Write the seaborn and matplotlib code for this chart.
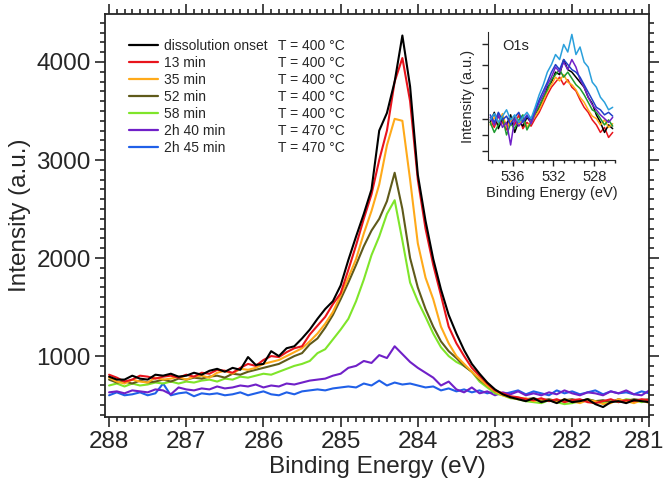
import numpy as np
import pandas as pd
import seaborn as sns
import matplotlib.pyplot as plt
from matplotlib.lines import Line2D
from matplotlib.ticker import MultipleLocator
from matplotlib.transforms import ScaledTranslation

# -------------------------------
# Data: C1s spectra, 288.0 -> 281.0 eV (0.1 eV steps)
# -------------------------------
energy = np.round(np.arange(288.0, 280.95, -0.1), 1)

onset = [790, 760, 760, 800, 770, 760, 810, 800, 820, 790,
         800, 830, 810, 850, 870, 840, 880, 860, 990, 910,
         920, 1050, 1000, 1080, 1100, 1180, 1270, 1380, 1480, 1560,
         1720, 1980, 2220, 2450, 2700, 3300, 3480, 3800, 4270, 3750,
         2850, 2380, 1990, 1680, 1420, 1230, 1060, 920, 820, 730,
         660, 610, 580, 560, 540, 570, 530, 550, 520, 560,
         530, 540, 560, 510, 480, 530, 540, 520, 550, 540, 530]
min13 = [810, 780, 740, 760, 800, 790, 770, 790, 800, 780,
         810, 790, 830, 820, 860, 850, 830, 880, 920, 900,
         960, 1000, 990, 1040, 1080, 1100, 1220, 1310, 1400, 1530,
         1640, 1880, 2130, 2400, 2650, 3000, 3300, 3800, 4040, 3600,
         2800, 2300, 1930, 1620, 1300, 1130, 1000, 880, 800, 720,
         650, 620, 590, 580, 560, 550, 570, 540, 560, 530,
         550, 560, 530, 520, 540, 560, 530, 550, 540, 560, 550]
min35 = [780, 740, 720, 760, 740, 730, 780, 760, 770, 790,
         760, 790, 800, 780, 830, 850, 820, 870, 860, 880,
         920, 940, 960, 1000, 1040, 1080, 1150, 1230, 1330, 1450,
         1620, 1800, 1990, 2250, 2480, 2750, 3150, 3420, 3400, 2800,
         2150, 1800, 1580, 1300, 1130, 1000, 920, 840, 770, 700,
         640, 600, 580, 560, 570, 540, 560, 550, 530, 560,
         540, 520, 550, 540, 510, 520, 560, 540, 520, 550, 520]
min52 = [760, 730, 740, 720, 750, 730, 740, 760, 740, 770,
         760, 780, 770, 790, 800, 780, 820, 810, 840, 860,
         880, 900, 920, 960, 1000, 1030, 1120, 1180, 1290, 1420,
         1580, 1750, 1930, 2120, 2280, 2400, 2580, 2870, 2500, 2000,
         1700, 1480, 1300, 1150, 1050, 980, 900, 840, 760, 700,
         640, 610, 580, 570, 560, 570, 550, 560, 540, 550,
         560, 540, 560, 540, 550, 530, 560, 540, 560, 550, 560]
min58 = [700, 720, 690, 720, 700, 710, 730, 720, 740, 720,
         740, 730, 750, 760, 740, 770, 760, 790, 780, 800,
         820, 810, 840, 870, 900, 920, 950, 1030, 1070, 1170,
         1270, 1380, 1560, 1780, 2030, 2220, 2450, 2590, 2180, 1750,
         1560, 1400, 1230, 1090, 1000, 940, 900, 840, 740, 680,
         620, 600, 570, 560, 540, 530, 520, 550, 530, 510,
         520, 540, 560, 540, 520, 550, 530, 560, 550, 530, 550]
h2m40 = [630, 640, 620, 650, 640, 630, 660, 650, 610, 680,
         660, 650, 670, 660, 690, 670, 680, 700, 690, 710,
         680, 700, 690, 720, 710, 730, 750, 760, 770, 800,
         820, 880, 900, 950, 930, 1010, 980, 1100, 1020, 940,
         880, 830, 780, 700, 740, 660, 630, 680, 620, 640,
         600, 630, 610, 640, 600, 620, 600, 630, 610, 650,
         620, 600, 630, 620, 600, 640, 620, 650, 610, 600, 650]
h2m45 = [600, 630, 600, 610, 630, 600, 620, 720, 600, 620,
         630, 590, 620, 610, 620, 600, 610, 630, 600, 620,
         640, 610, 600, 630, 610, 640, 650, 660, 650, 670,
         680, 690, 680, 720, 700, 750, 700, 730, 710, 720,
         700, 680, 690, 650, 670, 640, 660, 630, 650, 620,
         640, 610, 630, 650, 610, 640, 620, 600, 650, 620,
         640, 610, 630, 650, 610, 640, 620, 630, 610, 640, 620]

labels = ["dissolution onset", "13 min", "35 min", "52 min",
          "58 min", "2h 40 min", "2h 45 min"]
temps = ["T = 400 °C", "T = 400 °C", "T = 400 °C", "T = 400 °C",
         "T = 400 °C", "T = 470 °C", "T = 470 °C"]
colors = ["#000000", "#e8141c", "#ffaa1a", "#5f5a1a",
          "#7fe52a", "#7020c8", "#2060e8"]

# O1s inset, 538.2 -> 526.2 eV (0.4 eV steps), normalised intensity
energy_o1s = np.round(np.arange(538.2, 526.1, -0.4), 1)

o1s_black = [0.30, 0.38, 0.25, 0.33, 0.28, 0.36, 0.22, 0.31, 0.27, 0.34, 0.30,
             0.36, 0.42, 0.48, 0.58, 0.62, 0.70, 0.68, 0.80, 0.72, 0.70, 0.66,
             0.62, 0.58, 0.50, 0.45, 0.36, 0.30, 0.22, 0.28, 0.25]
o1s_red = [0.32, 0.26, 0.35, 0.30, 0.24, 0.33, 0.28, 0.36, 0.25, 0.30, 0.27,
           0.33, 0.38, 0.45, 0.52, 0.58, 0.62, 0.66, 0.60, 0.64, 0.58, 0.55,
           0.48, 0.42, 0.38, 0.32, 0.28, 0.22, 0.26, 0.18, 0.22]
o1s_orange = [0.28, 0.34, 0.30, 0.37, 0.26, 0.31, 0.35, 0.28, 0.33, 0.26, 0.31,
              0.35, 0.40, 0.47, 0.55, 0.60, 0.66, 0.63, 0.68, 0.62, 0.60, 0.56,
              0.50, 0.46, 0.40, 0.35, 0.33, 0.28, 0.32, 0.26, 0.29]
o1s_green = [0.30, 0.22, 0.28, 0.34, 0.20, 0.29, 0.25, 0.32, 0.36, 0.24, 0.30,
             0.37, 0.43, 0.50, 0.56, 0.64, 0.68, 0.72, 0.66, 0.70, 0.65, 0.60,
             0.57, 0.52, 0.46, 0.40, 0.38, 0.33, 0.28, 0.32, 0.27]
o1s_purple = [0.34, 0.28, 0.36, 0.26, 0.30, 0.12, 0.33, 0.27, 0.31, 0.36, 0.29,
              0.38, 0.46, 0.52, 0.60, 0.66, 0.74, 0.70, 0.78, 0.72, 0.80, 0.74,
              0.64, 0.58, 0.50, 0.44, 0.40, 0.36, 0.33, 0.30, 0.34]
o1s_blue = [0.36, 0.30, 0.38, 0.32, 0.35, 0.28, 0.34, 0.38, 0.30, 0.35, 0.32,
            0.40, 0.48, 0.55, 0.62, 0.70, 0.76, 0.72, 0.80, 0.76, 0.72, 0.70,
            0.66, 0.60, 0.54, 0.48, 0.42, 0.40, 0.36, 0.38, 0.35]
o1s_lightblue = [0.32, 0.37, 0.30, 0.35, 0.40, 0.32, 0.36, 0.30, 0.34, 0.38, 0.33,
                 0.42, 0.52, 0.60, 0.70, 0.76, 0.84, 0.80, 0.92, 0.86, 1.00, 0.84,
                 0.90, 0.78, 0.74, 0.62, 0.58, 0.50, 0.46, 0.40, 0.42]
o1s_names = ["lightblue", "blue", "purple", "green", "orange", "black", "red"]
o1s_colors = ["#2aa0dc", "#2040c8", "#7020c8", "#1e9a2e", "#ffaa1a", "#000000", "#e8141c"]

# -------------------------------
# Plot
# -------------------------------
sns.set_style("ticks")
plt.rcParams["font.family"] = ["Liberation Sans", "DejaVu Sans"]

series = [onset, min13, min35, min52, min58, h2m40, h2m45]
df = pd.DataFrame({
    "Binding Energy": np.tile(energy, len(series)),
    "Intensity": np.concatenate(series),
    "Spectrum": np.repeat(labels, len(energy)),
})

fig = plt.figure(figsize=(6.66, 4.91), dpi=100)
ax = fig.add_axes([0.158, 0.151, 0.817, 0.8206])
# draw in reverse so the onset curve sits on top
sns.lineplot(data=df, x="Binding Energy", y="Intensity", hue="Spectrum",
             hue_order=labels[::-1], palette=dict(zip(labels, colors)),
             estimator=None, sort=False, lw=1.5, legend=False, ax=ax)

ax.set_xlim(288.05, 281.0)
ax.set_ylim(380, 4490)
ax.xaxis.set_major_locator(MultipleLocator(1))
ax.xaxis.set_minor_locator(MultipleLocator(0.1))
ax.yaxis.set_major_locator(MultipleLocator(1000))
ax.yaxis.set_minor_locator(MultipleLocator(100))
ax.tick_params(which="both", direction="out", top=True, right=True,
               labeltop=False, labelright=False, width=1.2, labelsize=17.5)
ax.tick_params(which="major", length=7)
ax.tick_params(which="minor", length=3.5)
for sp in ax.spines.values():
    sp.set_linewidth(1.3)
ax.set_xlabel("Binding Energy (eV)", fontsize=17.5, labelpad=2)
ax.set_ylabel("Intensity (a.u.)", fontsize=17.5, labelpad=4)

# keep the "281" tick label inside the figure
fig.canvas.draw()
for tick in ax.xaxis.get_major_ticks():
    if abs(tick.get_loc() - 281.0) < 1e-6:
        lbl = tick.label1
        lbl.set_transform(lbl.get_transform()
                          + ScaledTranslation(-4 / 72, 0, fig.dpi_scale_trans))

handles = [Line2D([0], [0], color=c, lw=1.6) for c in colors]
leg1 = ax.legend(handles, labels, loc="upper left", bbox_to_anchor=(0.033, 0.952),
                 frameon=False, fontsize=10, handlelength=2.1, handletextpad=0.45,
                 labelspacing=0.22, borderaxespad=0)
ax.add_artist(leg1)
blank = [Line2D([], [], alpha=0) for _ in temps]
ax.legend(blank, temps, loc="upper left", bbox_to_anchor=(0.307, 0.952),
          frameon=False, fontsize=10, handlelength=0, handletextpad=0,
          labelspacing=0.22, borderaxespad=0)

# inset O1s
o1s = [o1s_lightblue, o1s_blue, o1s_purple, o1s_green, o1s_orange, o1s_black, o1s_red]
df_o = pd.DataFrame({
    "Binding Energy": np.tile(energy_o1s, len(o1s)),
    "Intensity": np.concatenate(o1s),
    "Spectrum": np.repeat(o1s_names, len(energy_o1s)),
})
axi = fig.add_axes([0.733, 0.674, 0.19, 0.261])
sns.lineplot(data=df_o, x="Binding Energy", y="Intensity", hue="Spectrum",
             hue_order=o1s_names[::-1], palette=dict(zip(o1s_names, o1s_colors)),
             estimator=None, sort=False, lw=1.1, legend=False, ax=axi)
axi.set_xlim(538.4, 526.0)
axi.set_ylim(0.0, 1.02)
axi.xaxis.set_major_locator(MultipleLocator(4))
axi.xaxis.set_minor_locator(MultipleLocator(1))
axi.set_yticks([0.07, 0.2, 0.33, 0.57, 0.76, 0.92])
axi.set_yticklabels([])
axi.tick_params(which="both", direction="out", width=1, labelsize=10.5)
axi.tick_params(which="major", length=4)
axi.tick_params(which="minor", length=2)
sns.despine(ax=axi)
axi.set_xlabel("Binding Energy (eV)", fontsize=10.5, labelpad=1)
axi.set_ylabel("Intensity (a.u.)", fontsize=10.5, labelpad=2)
axi.text(0.11, 0.86, "O1s", transform=axi.transAxes, fontsize=10.5)

fig.savefig("out.png", dpi=100)
